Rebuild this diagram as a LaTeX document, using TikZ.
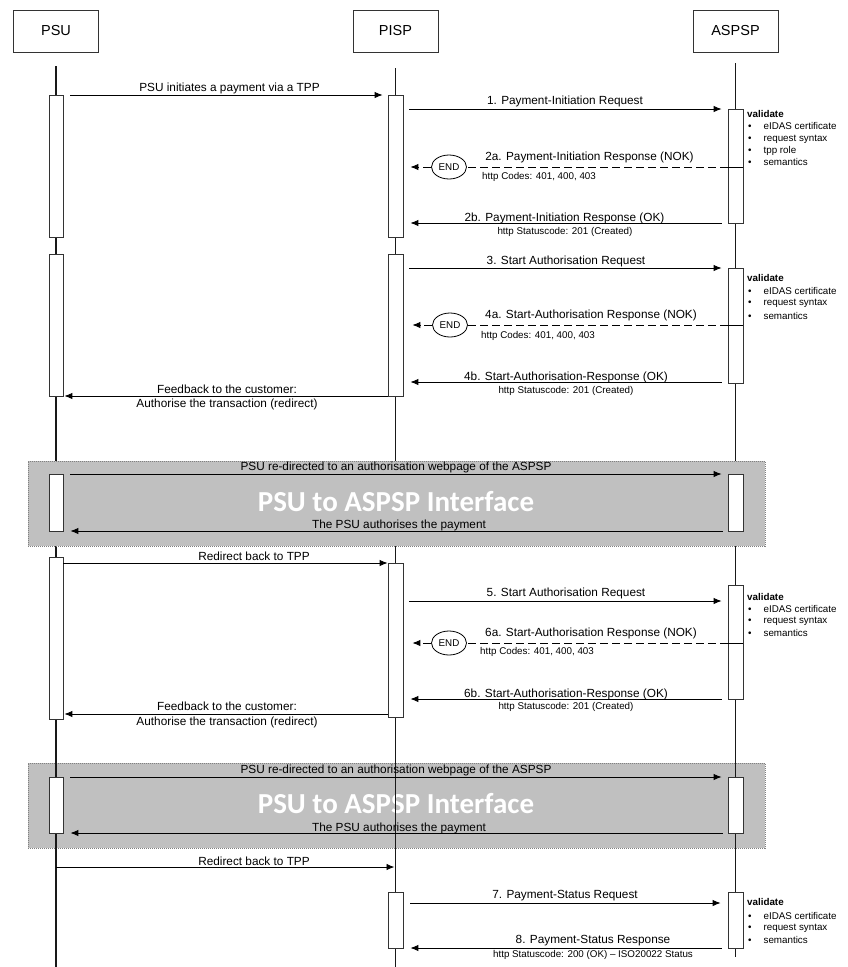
\documentclass[tikz,border=0pt]{standalone}
\usepackage{fontspec}
\setmainfont{Liberation Sans}
\newfontfamily\bigfont{Carlito}
\usetikzlibrary{arrows.meta,fit,shapes.geometric,calc}
\begin{document}
\begin{tikzpicture}[x=1pt,y=-1pt,
  hdr/.style={draw=black!80, line width=0.8pt, minimum width=85pt, minimum height=42pt, inner sep=0pt, font=\fontsize{14.5}{16}\selectfont},
  life/.style={line width=1.4pt, black!90},
  act/.style={draw=black!80, fill=white, line width=0.8pt, inner sep=0pt},
  msg/.style={line width=0.9pt, -{Latex[length=8pt,width=6.5pt]}},
  nok/.style={line width=0.9pt, dash pattern=on 8pt off 4pt},
  lbl/.style={font=\fontsize{11.8}{13}\selectfont, inner sep=0pt},
  sml/.style={font=\fontsize{9.8}{11}\selectfont, inner sep=0pt},
  smlw/.style={font=\fontsize{9.8}{11}\selectfont, inner sep=0pt, anchor=west},
  endnode/.style={ellipse, draw, line width=0.8pt, minimum width=35pt, minimum height=24pt, inner sep=0pt, font=\fontsize{9.8}{11}\selectfont, fill=white},
  grayband/.style={fill={rgb,255:red,192;green,192;blue,192}, draw=black!50, dash pattern=on 1pt off 1pt, line width=0.6pt},
  big/.style={font=\bigfont\bfseries\fontsize{29}{30}\selectfont, text=white, inner sep=0pt},
  valt/.style={font=\bfseries\fontsize{9.8}{11}\selectfont, anchor=west, inner sep=0pt},
  bul/.style={font=\fontsize{9.8}{11}\selectfont, anchor=west, inner sep=0pt},
]
\useasboundingbox (0,0) rectangle (848,967);
\fill[white] (0,0) rectangle (848,967);

% headers
\node[hdr] (psu) at (56,31) {PSU};
\node[hdr] (pisp) at (395.5,31) {PISP};
\node[hdr] (aspsp) at (735.5,31) {ASPSP};

% second gray band (PISP lifeline shows over it)
\node[grayband, fit={(28,763) (765,848)}, inner sep=0pt] (band2) {};
\node[big] (big2) at (396,803.5) {PSU to ASPSP Interface};

% lifelines
\coordinate (psuB) at (56,967);
\coordinate (pispB) at (395.5,967);
\coordinate (aspspB) at (735.5,957);
\draw[life] ($(psu.south)+(0,14)$) -- (psuB);
\draw[life] ($(pisp.south)+(0,16)$) -- (pispB);
\draw[life] ($(aspsp.south)+(0,11)$) -- (aspspB);

% first gray band (covers lifelines)
\node[grayband, fit={(28,461) (765,546)}, inner sep=0pt] (band1) {};
\node[big] (big1) at (396,501.5) {PSU to ASPSP Interface};

% activation boxes
\node[act, fit={(49,95) (63,237)}] (u1) {};
\node[act, fit={(49,254) (63,396)}] (u2) {};
\node[act, fit={(49,474) (63,531)}] (u3) {};
\node[act, fit={(49,557) (63,719)}] (u4) {};
\node[act, fit={(49,777) (63,833)}] (u5) {};
\node[act, fit={(388,95) (403,237)}] (p1) {};
\node[act, fit={(388,254) (403,396)}] (p2) {};
\node[act, fit={(388,563) (403,717)}] (p3) {};
\node[act, fit={(388,892) (403,948)}] (p4) {};
\node[act, fit={(728,109) (743,223)}] (a1) {};
\node[act, fit={(728,268) (743,383)}] (a2) {};
\node[act, fit={(728,474) (743,531)}] (a3) {};
\node[act, fit={(728,585) (743,699)}] (a4) {};
\node[act, fit={(728,777) (743,833)}] (a5) {};
\node[act, fit={(728,892) (743,948)}] (a6) {};

% ---- block 1
\draw[msg] ($(u1.east|-0,95)+(7,0)$) -- ($(p1.west|-0,95)+(-5,0)$);
\node[lbl] (t0) at (229.5,88) {PSU initiates a payment via a TPP};
\draw[msg] ($(p1.east|-0,109)+(6,0)$) -- ($(a1.west|-0,109)+(-6,0)$);
\node[lbl] (t1) at (565,101) {1. Payment-Initiation Request};
\node[endnode] (e1) at (449,167) {END};
\draw[nok] (a1.west|-0,167) -- (e1.east);
\draw[nok,msg] (e1.west) -- ($(p1.east|-0,167)+(7,0)$);
\draw[line width=0.8pt] (a1.west|-0,167) -- (a1.east|-0,167);
\node[lbl] (t2a) at (589.5,157) {2a. Payment-Initiation Response (NOK)};
\node[smlw] (c2a) at (482,177) {http Codes: 401, 400, 403};
\draw[msg] ($(a1.west|-0,223)+(-6,0)$) -- ($(p1.east|-0,223)+(7,0)$);
\node[lbl] (t2b) at (564.5,218) {2b. Payment-Initiation Response (OK)};
\node[sml] (c2b) at (565,232) {http Statuscode: 201 (Created)};
\node[valt] (v1) at (747,114) {validate};
\node[bul] (v1a) at (748,126) {•\hspace{12pt}eIDAS certificate};
\node[bul] (v1b) at (748,139) {•\hspace{12pt}request syntax};
\node[bul] (v1c) at (748,151) {•\hspace{12pt}tpp role};
\node[bul] (v1d) at (748,162) {•\hspace{12pt}semantics};

% ---- block 2
\draw[msg] ($(p2.east|-0,268)+(6,0)$) -- ($(a2.west|-0,268)+(-6,0)$);
\node[lbl] (t3) at (566,261) {3. Start Authorisation Request};
\node[endnode] (e2) at (450,325) {END};
\draw[nok] (a2.west|-0,325) -- (e2.east);
\draw[nok,msg] (e2.west) -- ($(p2.east|-0,325)+(9,0)$);
\draw[line width=0.8pt] (a2.west|-0,325) -- (a2.east|-0,325);
\node[lbl] (t4a) at (591,315) {4a. Start-Authorisation Response (NOK)};
\node[smlw] (c4a) at (481,336) {http Codes: 401, 400, 403};
\draw[msg] ($(a2.west|-0,382)+(-6,0)$) -- ($(p2.east|-0,382)+(7,0)$);
\node[lbl] (t4b) at (566,377) {4b. Start-Authorisation-Response (OK)};
\node[sml] (c4b) at (566,391) {http Statuscode: 201 (Created)};
\draw[msg] (p2.west|-0,396) -- ($(u2.east|-0,396)+(1,0)$);
\node[lbl] (f1a) at (227,389) {Feedback to the customer:};
\node[lbl] (f1b) at (227,404) {Authorise the transaction (redirect)};
\node[valt] (v2) at (747,278) {validate};
\node[bul] (v2a) at (748,291) {•\hspace{12pt}eIDAS certificate};
\node[bul] (v2b) at (748,303) {•\hspace{12pt}request syntax};
\node[bul] (v2c) at (748,316) {•\hspace{12pt}semantics};

% ---- band 1 messages
\draw[msg] ($(u3.east|-0,474)+(7,0)$) -- ($(a3.west|-0,474)+(-6,0)$);
\node[lbl] (g1a) at (396,467) {PSU re-directed to an authorisation webpage of the ASPSP};
\draw[msg] ($(a3.west|-0,531)+(-5,0)$) -- ($(u3.east|-0,531)+(7,0)$);
\node[lbl] (g1b) at (399,525.5) {The PSU authorises the payment};

% ---- block 3
\draw[msg] (u4.east|-0,563) -- (p3.west|-0,563);
\node[lbl] (r1) at (254,556) {Redirect back to TPP};
\draw[msg] ($(p3.east|-0,601)+(6,0)$) -- ($(a4.west|-0,601)+(-6,0)$);
\node[lbl] (t5) at (566,593) {5. Start Authorisation Request};
\node[endnode] (e3) at (449,643) {END};
\draw[nok] (a4.west|-0,643) -- (e3.east);
\draw[nok,msg] (e3.west) -- ($(p3.east|-0,643)+(9,0)$);
\draw[line width=0.8pt] (a4.west|-0,643) -- (a4.east|-0,643);
\node[lbl] (t6a) at (591,633) {6a. Start-Authorisation Response (NOK)};
\node[smlw] (c6a) at (480,652) {http Codes: 401, 400, 403};
\draw[msg] ($(a4.west|-0,699)+(-6,0)$) -- ($(p3.east|-0,699)+(7,0)$);
\node[lbl] (t6b) at (566,694) {6b. Start-Authorisation-Response (OK)};
\node[sml] (c6b) at (566,707) {http Statuscode: 201 (Created)};
\draw[msg] (p3.west|-0,714) -- ($(u4.east|-0,714)+(1,0)$);
\node[lbl] (f2a) at (227,706) {Feedback to the customer:};
\node[lbl] (f2b) at (227,722) {Authorise the transaction (redirect)};
\node[valt] (v3) at (747,597) {validate};
\node[bul] (v3a) at (748,609) {•\hspace{12pt}eIDAS certificate};
\node[bul] (v3b) at (748,621) {•\hspace{12pt}request syntax};
\node[bul] (v3c) at (748,633) {•\hspace{12pt}semantics};

% ---- band 2 messages
\draw[msg] ($(u5.east|-0,777)+(7,0)$) -- ($(a5.west|-0,777)+(-6,0)$);
\node[lbl] (g2a) at (396,770) {PSU re-directed to an authorisation webpage of the ASPSP};
\draw[msg] ($(a5.west|-0,833)+(-5,0)$) -- ($(u5.east|-0,833)+(7,0)$);
\node[lbl] (g2b) at (399,828.5) {The PSU authorises the payment};

% ---- block 4
\draw[msg] (psu.south|-0,867) -- ($(pisp.south|-0,867)+(-1,0)$);
\node[lbl] (r2) at (254,861) {Redirect back to TPP};
\draw[msg] ($(p4.east|-0,903)+(7,0)$) -- ($(a6.west|-0,903)+(-7,0)$);
\node[lbl] (t7) at (565,896) {7. Payment-Status Request};
\draw[msg] ($(a6.west|-0,948)+(-6,0)$) -- ($(p4.east|-0,948)+(7,0)$);
\node[lbl] (t8) at (593,941) {8. Payment-Status Response};
\node[sml] (c8) at (593,955) {http Statuscode: 200 (OK) – ISO20022 Status};
\node[valt] (v4) at (747,902) {validate};
\node[bul] (v4a) at (748,916) {•\hspace{12pt}eIDAS certificate};
\node[bul] (v4b) at (748,928) {•\hspace{12pt}request syntax};
\node[bul] (v4c) at (748,940) {•\hspace{12pt}semantics};
\end{tikzpicture}
\end{document}
